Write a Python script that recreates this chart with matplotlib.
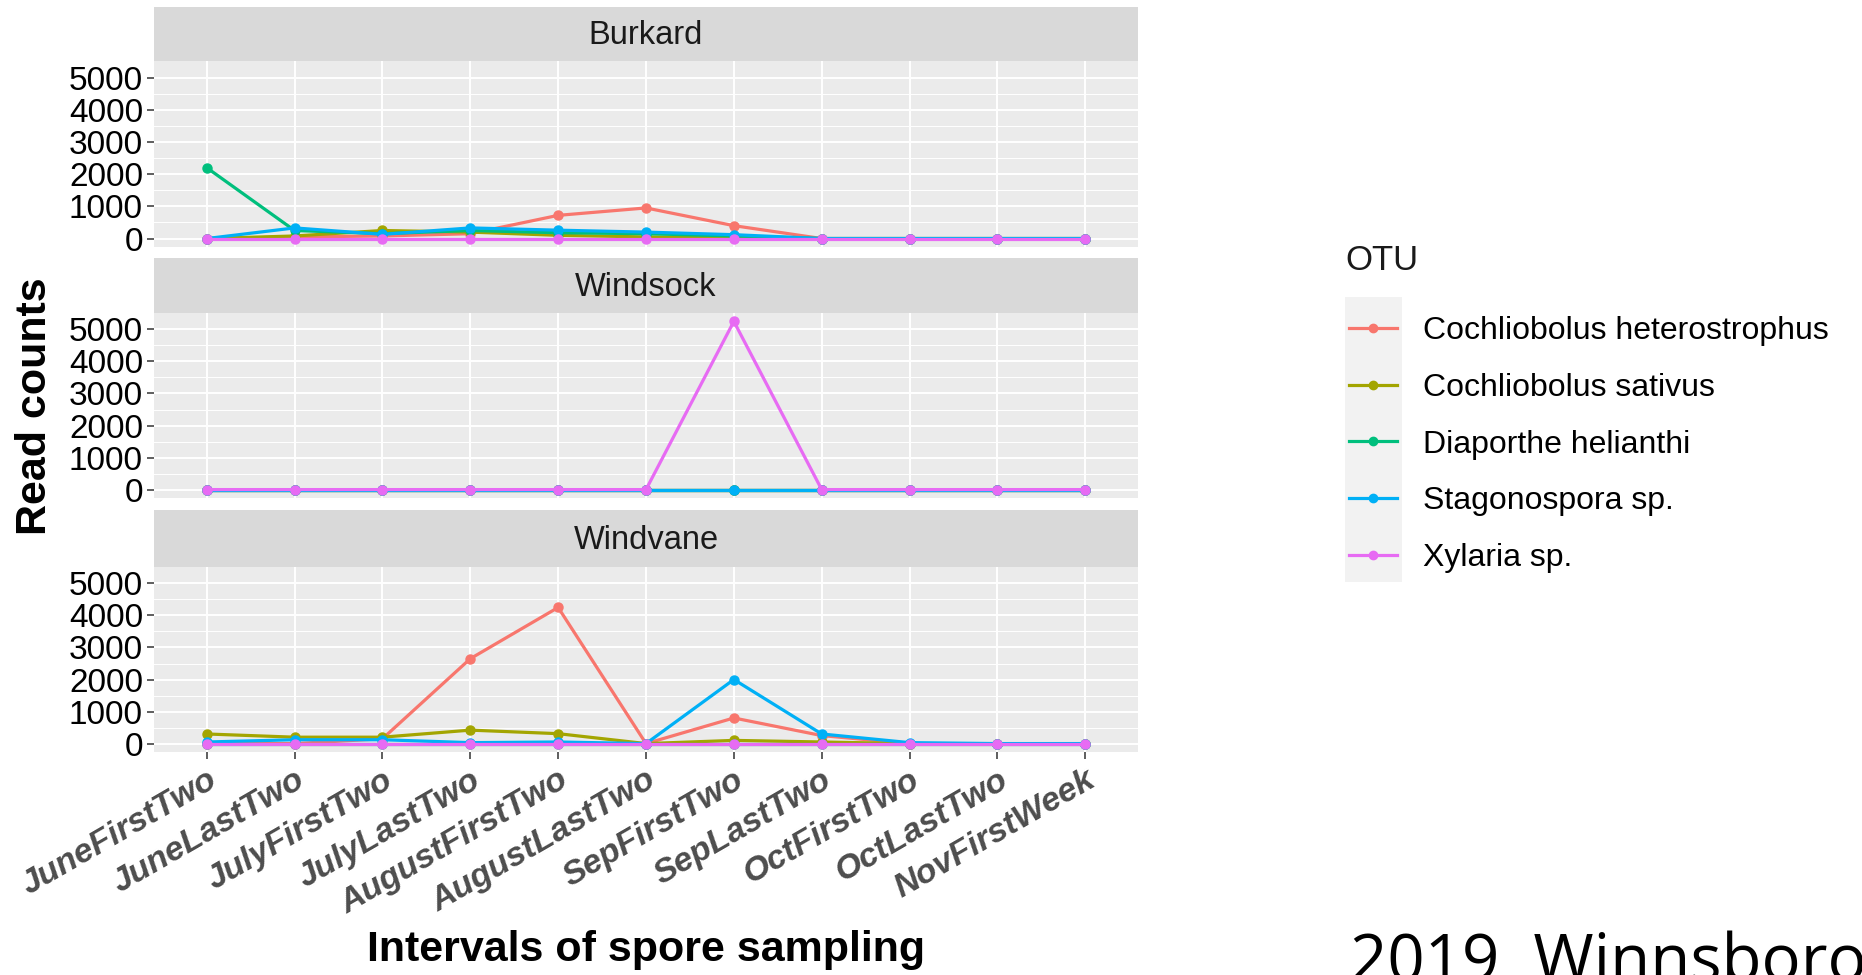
import matplotlib
matplotlib.use("Agg")
import matplotlib.pyplot as plt
from matplotlib.lines import Line2D
from matplotlib.patches import Rectangle
import numpy as np

# ---- data -------------------------------------------------------------
intervals = ["JuneFirstTwo", "JuneLastTwo", "JulyFirstTwo", "JulyLastTwo",
             "AugustFirstTwo", "AugustLastTwo", "SepFirstTwo", "SepLastTwo",
             "OctFirstTwo", "OctLastTwo", "NovFirstWeek"]
samplers = ["Burkard", "Windsock", "Windvane"]
otus = ["Cochliobolus heterostrophus", "Cochliobolus sativus",
        "Diaporthe helianthi", "Stagonospora sp.", "Xylaria sp."]
otu_colors = ["#F8766D", "#A3A500", "#00BF7D", "#00B0F6", "#E76BF3"]

# read counts per OTU, Burkard trap
burkard_hetero = [0, 50, 80, 150, 720, 950, 400, 0, 0, 0, 0]
burkard_sativus = [0, 80, 250, 200, 100, 50, 30, 0, 0, 0, 0]
burkard_diaporthe = [2200, 250, 150, 250, 180, 150, 80, 0, 0, 0, 0]
burkard_stagonospora = [0, 330, 130, 330, 260, 200, 120, 0, 0, 0, 0]
burkard_xylaria = [0, 0, 0, 0, 0, 0, 0, 0, 0, 0, 0]

# read counts per OTU, Windsock trap
windsock_hetero = [0, 0, 0, 0, 0, 0, 0, 0, 0, 0, 0]
windsock_sativus = [0, 0, 0, 0, 0, 0, 0, 0, 0, 0, 0]
windsock_diaporthe = [0, 0, 0, 0, 0, 0, 0, 0, 0, 0, 0]
windsock_stagonospora = [0, 0, 0, 0, 0, 0, 0, 0, 0, 0, 0]
windsock_xylaria = [0, 0, 0, 0, 0, 0, 5250, 0, 0, 0, 0]

# read counts per OTU, Windvane trap
windvane_hetero = [0, 0, 150, 2650, 4250, 0, 800, 250, 0, 0, 0]
windvane_sativus = [300, 200, 200, 420, 310, 0, 100, 50, 0, 0, 0]
windvane_diaporthe = [0, 0, 0, 0, 0, 0, 0, 0, 0, 0, 0]
windvane_stagonospora = [50, 120, 120, 30, 50, 0, 2000, 300, 30, 0, 0]
windvane_xylaria = [0, 0, 0, 0, 0, 0, 0, 0, 0, 0, 0]

counts = {
    "Burkard": [burkard_hetero, burkard_sativus, burkard_diaporthe,
                burkard_stagonospora, burkard_xylaria],
    "Windsock": [windsock_hetero, windsock_sativus, windsock_diaporthe,
                 windsock_stagonospora, windsock_xylaria],
    "Windvane": [windvane_hetero, windvane_sativus, windvane_diaporthe,
                 windvane_stagonospora, windvane_xylaria],
}

# ---- figure -----------------------------------------------------------
W, H = 1862, 975
fig = plt.figure(figsize=(W / 100, H / 100), dpi=100)
fig.patch.set_facecolor("white")
plt.rcParams["font.family"] = ["Liberation Sans", "DejaVu Sans"]


def px_axes(left, top, right, bottom):
    return fig.add_axes([left / W, 1 - bottom / H,
                         (right - left) / W, (bottom - top) / H])


# facet geometry (pixels): strip top, strip bottom / panel top, panel bottom
facets = [(7, 61, 247), (258, 313, 498), (510, 567, 752)]
x_left, x_right = 154, 1138

all_vals = np.concatenate([np.ravel(counts[s]) for s in samplers])
span = all_vals.max() - all_vals.min()
ylim = (all_vals.min() - 0.05 * span, all_vals.max() + 0.05 * span)
x = np.arange(len(intervals))

for i, (sampler, (s_top, p_top, p_bot)) in enumerate(zip(samplers, facets)):
    # strip
    sax = px_axes(x_left, s_top, x_right, p_top)
    sax.set_facecolor("#D9D9D9")
    sax.set_xticks([])
    sax.set_yticks([])
    for sp in sax.spines.values():
        sp.set_visible(False)
    sax.text(0.5, 0.47, sampler, ha="center", va="center", fontsize=23.5,
             color="#1A1A1A", transform=sax.transAxes)

    # panel
    ax = px_axes(x_left, p_top, x_right, p_bot)
    ax.set_facecolor("#EBEBEB")
    for sp in ax.spines.values():
        sp.set_visible(False)
    ax.set_xlim(-0.6, len(intervals) - 0.4)
    ax.set_ylim(*ylim)
    ax.set_yticks(np.arange(0, 5001, 1000))
    ax.set_yticks(np.arange(500, 5000, 1000), minor=True)
    ax.set_xticks(x)
    ax.grid(True, which="major", color="white", linewidth=1.4)
    ax.grid(True, which="minor", axis="y", color="white", linewidth=0.7)
    ax.set_axisbelow(True)
    ax.tick_params(axis="y", which="major", labelsize=24, labelcolor="black",
                   color="#333333", length=5, width=1.1, pad=3)
    ax.tick_params(axis="y", which="minor", length=0)

    for vals, col in zip(counts[sampler], otu_colors):
        ax.plot(x, vals, color=col, linewidth=2.3, marker="o",
                markersize=6.5, solid_capstyle="butt", zorder=3)

    if i < len(samplers) - 1:
        ax.tick_params(axis="x", length=0, labelbottom=False)
    else:
        ax.tick_params(axis="x", color="#333333", length=5, width=1.1, pad=4)
        ax.set_xticklabels(intervals, rotation=30, ha="right", va="top",
                           rotation_mode="anchor", fontsize=24.5,
                           fontweight="bold", fontstyle="italic",
                           color="#4D4D4D")

# axis titles
fig.text((x_left + x_right) / 2 / W, 1 - 950 / H, "Intervals of spore sampling",
         ha="center", va="center", fontsize=31, fontweight="bold")
fig.text(35 / W, 1 - 406 / H, "Read counts", ha="center", va="center",
         rotation=90, fontsize=31, fontweight="bold")

# legend
fig.text(1345 / W, 1 - 261 / H, "OTU", ha="left", va="center", fontsize=25,
         color="#1A1A1A")
fig.add_artist(Rectangle((1345 / W, 1 - 582 / H), 57 / W, 285 / H,
                         transform=fig.transFigure, facecolor="#F2F2F2",
                         edgecolor="none", zorder=0))
handles = [Line2D([0], [0], color=c, linewidth=2.3, marker="o", markersize=6)
           for c in otu_colors]
leg = fig.legend(handles, otus, loc="upper left",
                 bbox_to_anchor=(1349 / W, 1 - 316 / H), frameon=False,
                 fontsize=23, handlelength=1.5, handletextpad=0.82,
                 labelspacing=0.84, borderpad=0, borderaxespad=0)

# site caption
fig.text(1350 / W, 1 - 981 / H, "2019  Winnsboro", ha="left", va="baseline",
         fontsize=47, family=["Open Sans", "DejaVu Sans"], color="black")

fig.savefig("out.png", dpi=100, facecolor="white")
